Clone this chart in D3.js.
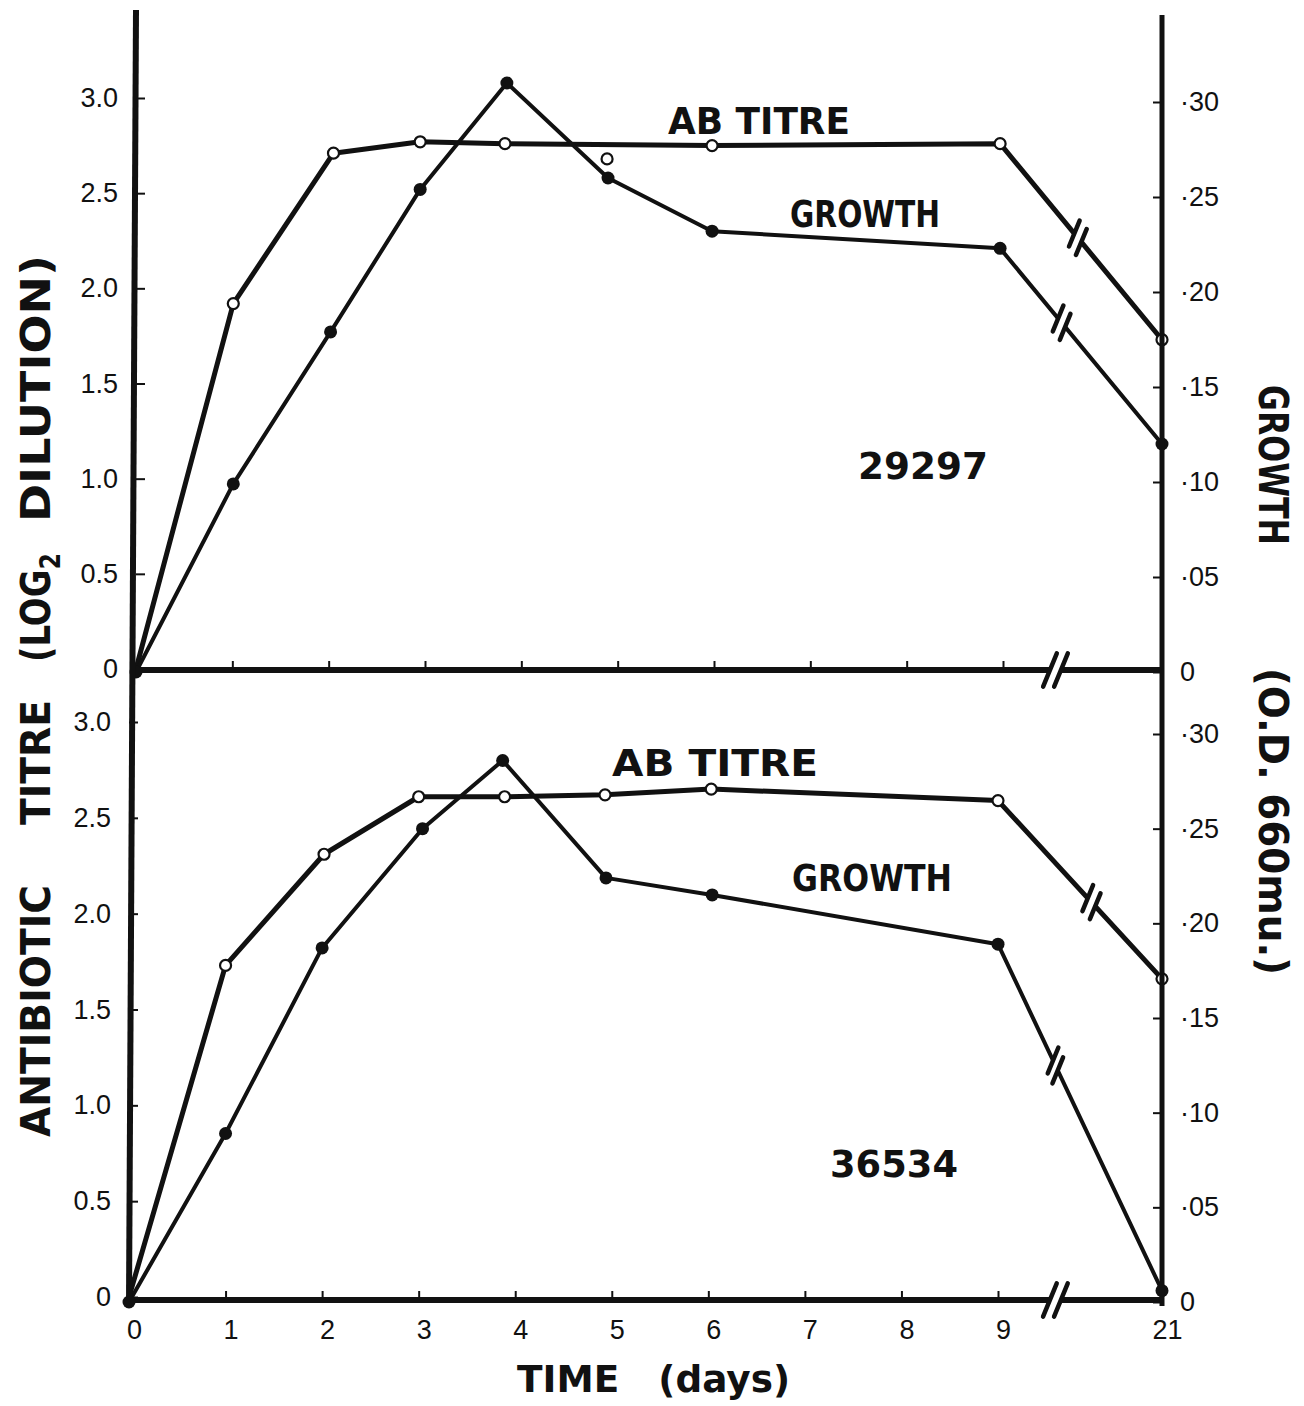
<!DOCTYPE html>
<html>
<head>
<meta charset="utf-8">
<script src="https://cdn.jsdelivr.net/npm/d3@7"></script>
<style>
  body { margin: 0; background: #fff; }
  svg text { fill: #111; }
</style>
</head>
<body>
<div id="chart"></div>
<script>
const width = 1304;
const height = 1406;

// strain 29297 (upper panel)
const topAbDays = [0, 1.01, 2.05, 2.95, 3.83, 5.98, 8.97, 21];
const topAbTitre = [0, 1.92, 2.71, 2.77, 2.76, 2.75, 2.76, 1.73];
const topAbExtraDays = [4.89];          // circle drawn off the line
const topAbExtraTitre = [2.68];
const topGrDays = [0, 1.01, 2.02, 2.95, 3.85, 4.90, 5.98, 8.97, 21];
const topGrowth = [0, 0.099, 0.179, 0.254, 0.310, 0.260, 0.232, 0.223, 0.120];

// strain 36534 (lower panel)
const botAbDays = [0, 1.0, 2.02, 3.0, 3.89, 4.93, 6.03, 9.0, 21];
const botAbTitre = [0, 1.73, 2.31, 2.61, 2.61, 2.62, 2.65, 2.59, 1.66];
const botGrDays = [0, 1.0, 2.0, 3.04, 3.87, 4.94, 6.04, 9.0, 21];
const botGrowth = [0, 0.089, 0.187, 0.250, 0.286, 0.224, 0.215, 0.189, 0.006];

const dayTicks = [0, 1, 2, 3, 4, 5, 6, 7, 8, 9, 21];
const titreTicks = [0, 0.5, 1, 1.5, 2, 2.5, 3];
const titreLabels = ["0", "0.5", "1.0", "1.5", "2.0", "2.5", "3.0"];
const growthTicks = [0, 0.05, 0.10, 0.15, 0.20, 0.25, 0.30];
const growthLabels = ["0", "\u00b705", "\u00b710", "\u00b715", "\u00b720", "\u00b725", "\u00b730"];

const thin = "'Liberation Sans', Arial, sans-serif";
const bold = "'DejaVu Sans', sans-serif";

const panels = [
  {
    name: "29297", abDays: topAbDays, ab: topAbTitre, grDays: topGrDays, gr: topGrowth,
    extraDays: topAbExtraDays, extra: topAbExtraTitre,
    x: [136, 1003, 1162], yL: [669, 98], yR: [672, 102], axisY: 670,
    labels: false, abBreak: 0.48, grBreak: 0.38, axisBreak: 0.33,
    abText: [668, 850, 134], grText: [790, 940, 227], idText: [858, 988, 479]
  },
  {
    name: "36534", abDays: botAbDays, ab: botAbTitre, grDays: botGrDays, gr: botGrowth,
    extraDays: [], extra: [],
    x: [129, 998, 1162], yL: [1297, 722], yR: [1302, 734], axisY: 1300,
    labels: true, abBreak: 0.57, grBreak: 0.35, axisBreak: 0.35,
    abText: [612, 818, 776], grText: [792, 952, 891], idText: [830, 958, 1177]
  }
];

const svg = d3.select("#chart").append("svg")
  .attr("width", width)
  .attr("height", height);

// slanted break mark "//" across a line at point p
function breakMark(g, p, angle, len) {
  const ux = Math.cos(angle), uy = Math.sin(angle);
  const mx = 0.38, my = -0.925;
  g.append("line")
    .attr("x1", p[0] - ux * 6).attr("y1", p[1] - uy * 6)
    .attr("x2", p[0] + ux * 6).attr("y2", p[1] + uy * 6)
    .attr("stroke", "#fff").attr("stroke-width", 10);
  [-5.5, 5.5].forEach(o => {
    const cx = p[0] + ux * o, cy = p[1] + uy * o;
    g.append("line")
      .attr("x1", cx - mx * len / 2).attr("y1", cy - my * len / 2)
      .attr("x2", cx + mx * len / 2).attr("y2", cy + my * len / 2)
      .attr("stroke", "#111").attr("stroke-width", 4.5)
      .attr("stroke-linecap", "round");
  });
}

panels.forEach(p => {
  const x = d3.scaleLinear().domain([0, 9, 21]).range(p.x);
  const yL = d3.scaleLinear().domain([0, 3]).range(p.yL);
  const yR = d3.scaleLinear().domain([0, 0.3]).range(p.yR);
  const g = svg.append("g");

  // axes (ticks point inward)
  const left = g.append("g").attr("transform", `translate(${p.x[0]},0)`)
    .call(d3.axisLeft(yL).tickValues(titreTicks).tickSize(-9).tickPadding(18)
      .tickFormat((d, i) => titreLabels[i]));
  const right = g.append("g").attr("transform", `translate(${p.x[2]},0)`)
    .call(d3.axisRight(yR).tickValues(growthTicks).tickSize(-9).tickPadding(18)
      .tickFormat((d, i) => growthLabels[i]));
  const bottom = g.append("g").attr("transform", `translate(0,${p.axisY})`)
    .call(d3.axisBottom(x).tickValues(dayTicks.filter(d => d > 0 && d < 21)).tickSize(-9)
      .tickFormat(""));

  [left, right, bottom].forEach(a => {
    a.select(".domain").remove();
    a.selectAll(".tick line").attr("stroke", "#111").attr("stroke-width", 2);
    a.selectAll(".tick text")
      .style("font-family", thin).style("font-size", "27px").attr("fill", "#111");
  });

  if (p.labels) {
    g.append("g").attr("transform", `translate(0,${p.axisY})`)
      .call(d3.axisBottom(x).tickValues(dayTicks).tickSize(0).tickPadding(20)
        .tickFormat(d => d))
      .call(a => a.select(".domain").remove())
      .selectAll("text")
      .style("font-family", thin).style("font-size", "27px").attr("fill", "#111")
      .attr("dx", 5);
  }

  // x axis line with break
  g.append("line")
    .attr("x1", p.x[0]).attr("x2", p.x[2])
    .attr("y1", p.axisY).attr("y2", p.axisY)
    .attr("stroke", "#111").attr("stroke-width", 6);
  breakMark(g, [p.x[1] + (p.x[2] - p.x[1]) * p.axisBreak, p.axisY], 0, 36);

  // series
  const abPts = p.abDays.map((d, i) => [x(d), yL(p.ab[i])]);
  const grPts = p.grDays.map((d, i) => [x(d), yR(p.gr[i])]);
  const line = d3.line();

  g.append("path").attr("d", line(abPts))
    .attr("fill", "none").attr("stroke", "#111").attr("stroke-width", 5)
    .attr("stroke-linejoin", "round");
  g.append("path").attr("d", line(grPts))
    .attr("fill", "none").attr("stroke", "#111").attr("stroke-width", 4)
    .attr("stroke-linejoin", "round");

  [[abPts, p.abBreak], [grPts, p.grBreak]].forEach(([pts, t]) => {
    const a = pts[pts.length - 2], b = pts[pts.length - 1];
    const pt = [a[0] + (b[0] - a[0]) * t, a[1] + (b[1] - a[1]) * t];
    breakMark(g, pt, Math.atan2(b[1] - a[1], b[0] - a[0]), 28);
  });

  g.selectAll(".gr").data(grPts).join("circle")
    .attr("cx", d => d[0]).attr("cy", d => d[1]).attr("r", 6.5)
    .attr("fill", "#111");
  const extraPts = p.extraDays.map((d, i) => [x(d), yL(p.extra[i])]);
  g.selectAll(".ab").data(abPts.slice(1).concat(extraPts)).join("circle")
    .attr("cx", d => d[0]).attr("cy", d => d[1]).attr("r", 5.5)
    .attr("fill", "#fff").attr("stroke", "#111").attr("stroke-width", 2.2);

  // in-plot labels
  [["AB TITRE", p.abText], ["GROWTH", p.grText], [p.name, p.idText]].forEach(([t, pos]) => {
    g.append("text")
      .attr("x", pos[0]).attr("y", pos[2])
      .attr("textLength", pos[1] - pos[0]).attr("lengthAdjust", "spacingAndGlyphs")
      .style("font-family", bold).style("font-weight", "bold").style("font-size", "37px")
      .text(t);
  });
});

// frame lines spanning both panels
svg.append("line").attr("x1", 136).attr("y1", 10).attr("x2", 129).attr("y2", 1303)
  .attr("stroke", "#111").attr("stroke-width", 6);
svg.append("line").attr("x1", 1162).attr("y1", 15).attr("x2", 1162).attr("y2", 1306)
  .attr("stroke", "#111").attr("stroke-width", 5);

// axis titles
function vText(words, rot, bx) {
  words.forEach(w => {
    const t = svg.append("text")
      .attr("transform", `translate(${bx},${(w.a + w.b) / 2}) rotate(${rot})`)
      .attr("text-anchor", "middle")
      .attr("textLength", Math.abs(w.b - w.a)).attr("lengthAdjust", "spacingAndGlyphs")
      .style("font-family", bold).style("font-weight", "bold").style("font-size", "40px");
    t.append("tspan").text(w.t);
    if (w.sub) t.append("tspan").attr("dy", 10).style("font-size", "28px").text(w.sub);
  });
}
vText([
  { t: "ANTIBIOTIC", a: 1137, b: 885 },
  { t: "TITRE", a: 825, b: 700 },
  { t: "(LOG", sub: "2", a: 662, b: 553 },
  { t: "DILUTION)", a: 522, b: 255 }
], -90, 50);
vText([
  { t: "GROWTH", a: 385, b: 545 },
  { t: "(O.D. 660mu.)", a: 668, b: 975 }
], 90, 1259);

svg.append("text").attr("x", 517).attr("y", 1392)
  .attr("textLength", 273).attr("lengthAdjust", "spacingAndGlyphs")
  .style("font-family", bold).style("font-weight", "bold").style("font-size", "38px")
  .attr("xml:space", "preserve")
  .text("TIME   (days)");
</script>
</body>
</html>
